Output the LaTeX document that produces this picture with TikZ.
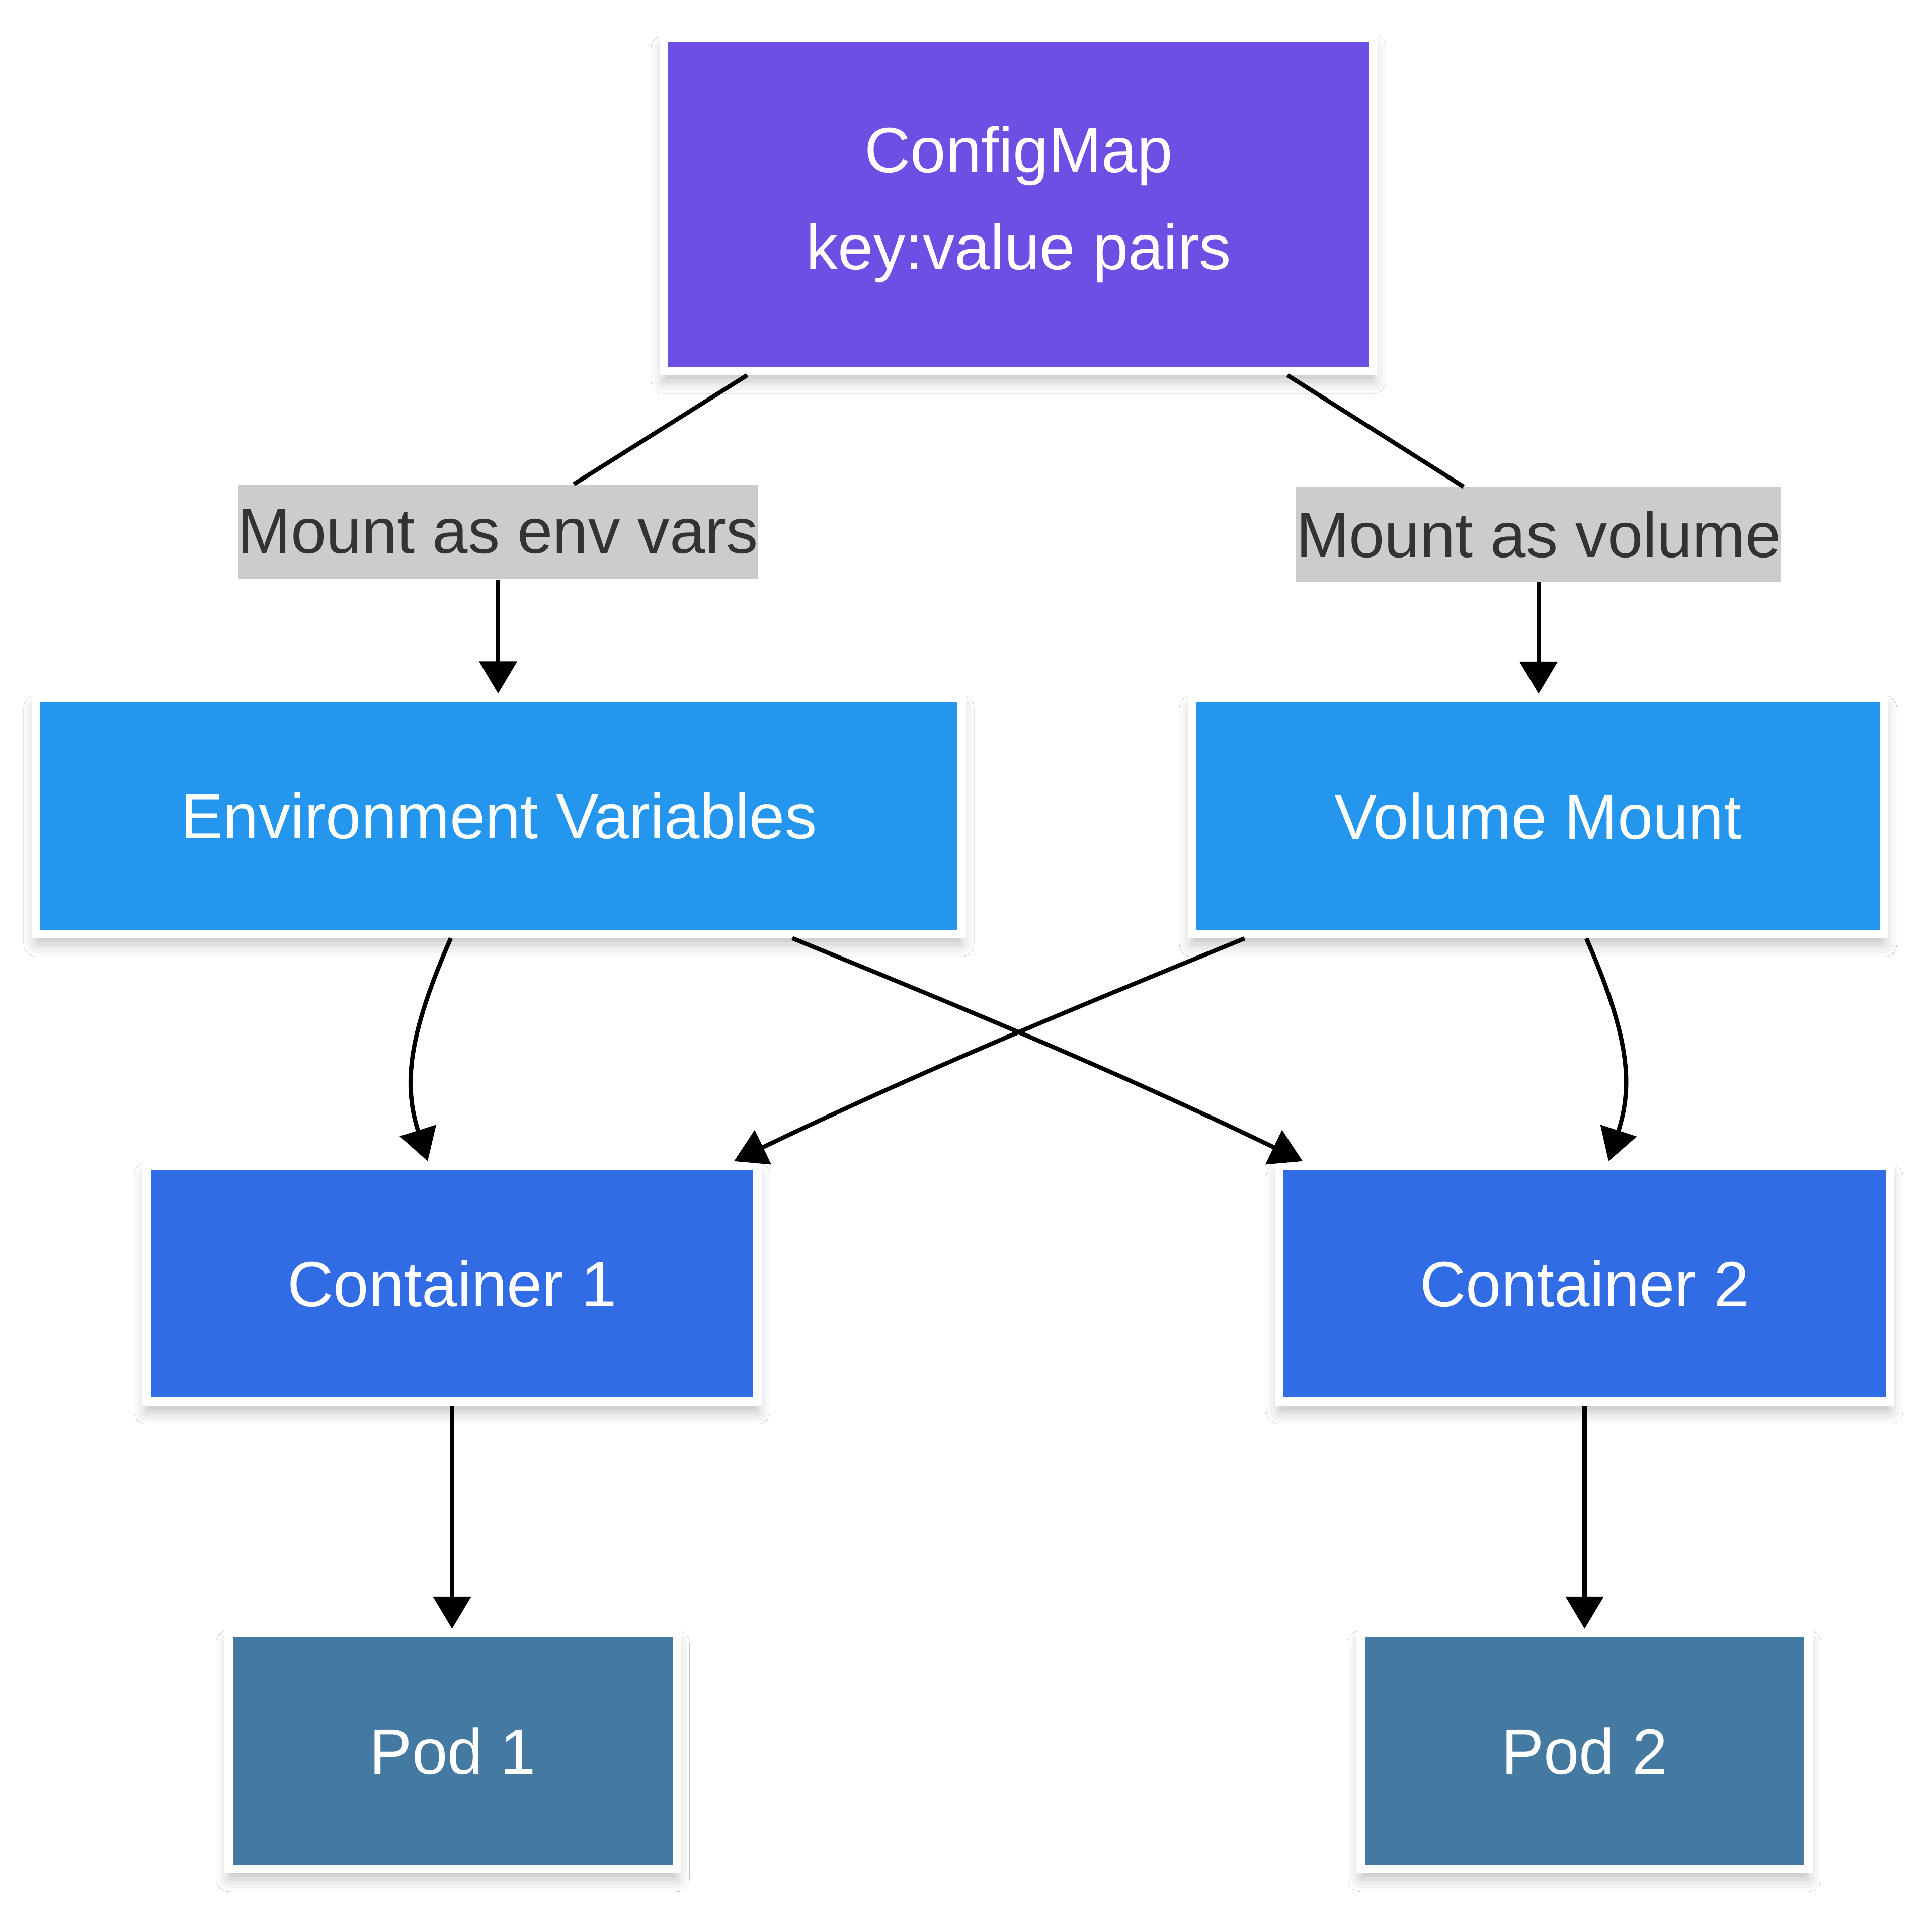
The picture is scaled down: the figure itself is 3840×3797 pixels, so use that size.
\documentclass[tikz,border=0pt]{standalone}
\usepackage{fontspec}
\setmainfont{Liberation Sans}
\usetikzlibrary{arrows.meta,shadows.blur}
\definecolor{cfgpurple}{HTML}{6D4FE4}
\definecolor{envblue}{HTML}{2496ED}
\definecolor{ctrblue}{HTML}{326CE5}
\definecolor{podblue}{HTML}{4479A1}
\definecolor{lblgray}{HTML}{CCCCCC}
\definecolor{lbltext}{HTML}{333333}
\tikzset{
  box/.style={draw=white, line width=0.17cm, text=white, inner sep=0pt,
    font=\fontsize{36}{55}\selectfont, minimum height=4.69cm,
    blur shadow={shadow xshift=0cm, shadow yshift=-0.2cm,
      shadow blur radius=0.25cm, shadow opacity=25}},
  lbl/.style={fill=lblgray, text=lbltext, inner sep=0pt,
    minimum height=1.88cm, font=\fontsize{36}{43}\selectfont},
  edge/.style={draw=black, line width=0.085cm},
  arr/.style={edge, -{Triangle[length=0.64cm, width=0.74cm]}}
}

\begin{document}
\begin{tikzpicture}[x=0.01cm, y=-0.01cm]
\fill[white] (0,0) rectangle (3840,3797);
\useasboundingbox (0,0) rectangle (3840,3797);

% configmap
\node[box, fill=cfgpurple, minimum width=14.1cm, minimum height=6.62cm, align=center]
  (cfg) at (2024.5,406) {ConfigMap\\key:value pairs};

% edge labels
\node[lbl] (envlbl) at (990,1057) {Mount as env vars};
\node[lbl] (vollbl) at (3058,1062) {Mount as volume};

% mount kinds
\node[box, fill=envblue, minimum width=18.38cm] (env) at (991.5,1621.5) {Environment Variables};
\node[box, fill=envblue, minimum width=13.75cm] (vol) at (3057,1622) {Volume Mount};

% containers
\node[box, fill=ctrblue, minimum width=12.14cm] (ctr1) at (898.5,2551) {Container 1};
\node[box, fill=ctrblue, minimum width=12.14cm] (ctr2) at (3149.5,2551) {Container 2};

% pods
\node[box, fill=podblue, minimum width=8.9cm] (pod1) at (900,3480) {Pod 1};
\node[box, fill=podblue, minimum width=8.9cm] (pod2) at (3149.5,3480) {Pod 2};

% configmap to mounts
\draw[edge] (cfg) -- (envlbl);
\draw[arr] (envlbl) -- (envlbl.south |- env.north);
\draw[edge] (cfg) -- (vollbl);
\draw[arr] (vollbl) -- (vollbl.south |- vol.north);

% mounts to containers
\draw[arr] ([xshift=-0.955cm]env.south) .. controls (815,2050) and (800,2150) .. ([xshift=-0.485cm]ctr1.north);
\draw[arr] ([xshift=5.83cm]env.south) .. controls (1880,1990) and (2200,2120) .. ([xshift=-5.6cm]ctr2.north);
\draw[arr] ([xshift=-5.83cm]vol.south) .. controls (2169,1990) and (1849,2120) .. ([xshift=5.6cm]ctr1.north);
\draw[arr] ([xshift=0.96cm]vol.south) .. controls (3233.5,2050) and (3248.5,2150) .. ([xshift=0.475cm]ctr2.north);

% containers to pods
\draw[arr] (ctr1) -- (ctr1.south |- pod1.north);
\draw[arr] (ctr2) -- (ctr2.south |- pod2.north);
\end{tikzpicture}
\end{document}
